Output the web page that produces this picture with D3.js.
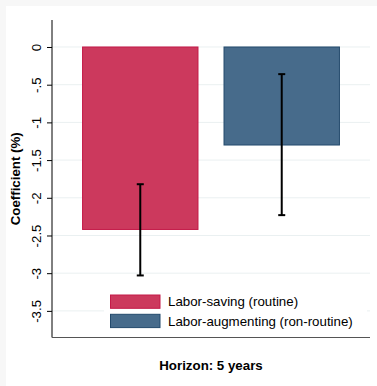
<!DOCTYPE html>
<html><head><meta charset="utf-8">
<script src="https://cdn.jsdelivr.net/npm/d3@7"></script>
<style>body{margin:0;background:#f7f7f7}svg{display:block}text{font-family:"Liberation Sans",Arial,sans-serif}</style>
</head><body><svg id="c" width="377" height="386"></svg>
<script>
const categories = ["Labor-saving (routine)", "Labor-augmenting (ron-routine)"];
const coefficients = [-2.42, -1.30];
const ciLow = [-3.03, -2.23];
const ciHigh = [-1.82, -0.36];
const yTicks = [0, -0.5, -1, -1.5, -2, -2.5, -3, -3.5];
const yTickLabels = ["0", "-.5", "-1", "-1.5", "-2", "-2.5", "-3", "-3.5"];
const fills = ["#cc395d", "#476b8b"];
const strokes = ["#c41a48", "#234a6c"];

const svg = d3.select("#c");
svg.append("rect").attr("x",6).attr("y",6).attr("width",371).attr("height",380).attr("fill","#fff");
const L=52,R=370,T=20,B=337.5;
const FS=13.3;
const y = d3.scaleLinear().domain([-3.853,0.358]).range([B,T]);
const x = d3.scaleBand().domain(categories).range([L,R]).paddingInner(0.184).paddingOuter(0.216);

// gridlines
svg.append("g").selectAll("line").data(yTicks).join("line")
  .attr("x1",L).attr("x2",R).attr("y1",d=>y(d)).attr("y2",d=>y(d))
  .attr("stroke","#eaf0f1").attr("stroke-width",1);

// bars
svg.append("g").selectAll("rect").data(categories).join("rect")
  .attr("x",d=>x(d)).attr("width",x.bandwidth())
  .attr("y",y(0)).attr("height",(d,i)=>y(coefficients[i])-y(0))
  .attr("fill",(d,i)=>fills[i]).attr("stroke",(d,i)=>strokes[i]).attr("stroke-width",1);

// error bars
const eb = svg.append("g").attr("stroke","#000").attr("stroke-width",2);
categories.forEach((c,i)=>{
  const cx = x(c)+x.bandwidth()/2;
  eb.append("line").attr("x1",cx).attr("x2",cx).attr("y1",y(ciLow[i])).attr("y2",y(ciHigh[i]));
  [ciLow[i],ciHigh[i]].forEach(v=>eb.append("line").attr("x1",cx-3.5).attr("x2",cx+3.5).attr("y1",y(v)).attr("y2",y(v)));
});

// y axis
const ya = d3.axisLeft(y).tickValues(yTicks).tickFormat((d,i)=>yTickLabels[i]).tickSize(5).tickSizeOuter(0);
const g = svg.append("g").attr("transform",`translate(${L},0)`).call(ya);
g.select(".domain").attr("stroke","#000").attr("d",`M0,${T}V${B}`);
g.selectAll(".tick line").attr("stroke","#000");
g.selectAll(".tick text").attr("font-size",FS).attr("fill","#000")
  .attr("text-anchor","middle").attr("x",0).attr("y",0).attr("dy",0)
  .attr("transform","translate(-11,0) rotate(-90)");

// bottom line
svg.append("line").attr("x1",L).attr("x2",R).attr("y1",B).attr("y2",B).attr("stroke","#555").attr("stroke-width",1.2);

// legend
const lg = svg.append("g");
lg.append("rect").attr("x",104).attr("y",289).attr("width",263).attr("height",46).attr("fill","#fff");
categories.forEach((c,i)=>{
  const yy = 295 + i*19.3;
  lg.append("rect").attr("x",110.5).attr("y",yy).attr("width",49.5).attr("height",13.3)
    .attr("fill",fills[i]).attr("stroke",strokes[i]).attr("stroke-width",1);
  lg.append("text").attr("x",168).attr("y",yy+11.3).attr("font-size",FS).attr("fill","#000").text(c);
});

// axis titles
svg.append("text").attr("transform",`translate(20,${(T+B)/2}) rotate(-90)`).attr("text-anchor","middle")
  .attr("font-size",FS).attr("font-weight","bold").text("Coefficient (%)");
svg.append("text").attr("x",(L+R)/2).attr("y",370).attr("text-anchor","middle")
  .attr("font-size",FS).attr("font-weight","bold").text("Horizon: 5 years");
</script></body></html>
